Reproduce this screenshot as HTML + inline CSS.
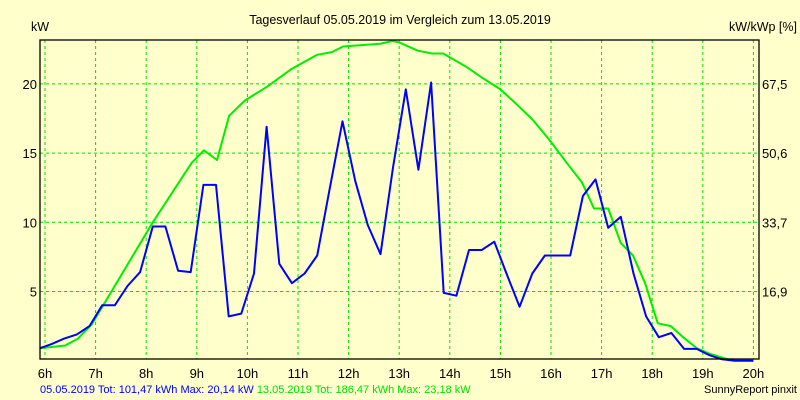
<!DOCTYPE html>
<html><head><meta charset="utf-8"><style>
html,body{margin:0;padding:0;background:#ffffcc;}
svg{display:block;font-family:"Liberation Sans",sans-serif;}
</style></head><body>
<svg id="chart" width="800" height="400" viewBox="0 0 800 400">
<rect x="0" y="0" width="800" height="400" fill="#ffffcc"/>
<text x="400" y="24" font-size="12.5" text-anchor="middle" fill="#000">Tagesverlauf 05.05.2019 im Vergleich zum 13.05.2019</text>
<text x="31" y="31" font-size="12.5" fill="#000">kW</text>
<text x="797" y="31" font-size="12.5" text-anchor="end" fill="#000">kW/kWp [%]</text>
<g id="grid"></g>
<g id="ticks"></g>
<g id="series"></g>
<rect x="40" y="40" width="719" height="319" fill="none" stroke="#000" stroke-width="1.3"/>
<text x="40" y="393" font-size="11"><tspan fill="#0000ff">05.05.2019 Tot: 101,47 kWh Max: 20,14 kW</tspan><tspan fill="#00e000" dx="3">13.05.2019 Tot: 186,47 kWh Max: 23,18 kW</tspan></text>
<text x="797" y="393" font-size="11" text-anchor="end" fill="#000">SunnyReport pinxit</text>
</svg>
<script>
const hourTicks = [6,7,8,9,10,11,12,13,14,15,16,17,18,19,20];
const kwTicks = [5,10,15,20];
const pctLabels = ["16,9","33,7","50,6","67,5"];
const blueTimes = [5.9,6.13,6.38,6.63,6.88,7.13,7.38,7.63,7.88,8.13,8.38,8.63,8.88,9.13,9.38,9.63,9.88,10.13,10.38,10.63,10.88,11.13,11.38,11.63,11.88,12.13,12.38,12.63,12.88,13.13,13.38,13.63,13.88,14.13,14.38,14.63,14.88,15.13,15.38,15.63,15.88,16.13,16.38,16.63,16.88,17.13,17.38,17.63,17.88,18.13,18.38,18.63,18.88,19.13,19.38,19.63,19.88,20.0];
const blueValues = [0.9,1.2,1.6,1.9,2.5,4.0,4.0,5.4,6.4,9.7,9.7,6.5,6.4,12.7,12.7,3.2,3.4,6.3,16.9,7.0,5.6,6.3,7.6,12.5,17.3,13.0,9.8,7.7,14.0,19.6,13.8,20.1,4.9,4.7,8.0,8.0,8.6,6.2,3.9,6.3,7.6,7.6,7.6,11.9,13.1,9.6,10.4,6.3,3.2,1.7,2.0,0.85,0.85,0.4,0.1,0,0,0];
const greenTimes = [5.9,6.4,6.65,6.92,8.13,8.9,9.14,9.4,9.64,9.95,10.39,10.88,11.38,11.67,11.89,12.62,12.87,13.0,13.37,13.65,13.87,14.34,14.66,15.0,15.33,15.64,15.98,16.31,16.61,16.85,17.13,17.38,17.62,17.86,18.11,18.37,18.61,18.88,19.14,19.5,20.0];
const greenValues = [0.9,1.1,1.6,2.6,10.0,14.3,15.2,14.5,17.7,18.8,19.8,21.1,22.1,22.3,22.7,22.9,23.1,23.0,22.4,22.2,22.2,21.2,20.4,19.6,18.5,17.4,15.9,14.3,12.9,11.0,11.0,8.5,7.6,5.6,2.7,2.5,1.7,0.9,0.5,0.1,0];

const NS = "http://www.w3.org/2000/svg";
const x = h => 45 + (h - 6) * 50.6;
const y = v => 360.7 - v * 13.84;
const grid = document.getElementById('grid');
const ticks = document.getElementById('ticks');
const series = document.getElementById('series');
function mk(tag, attrs, parent){const e=document.createElementNS(NS,tag);for(const k in attrs)e.setAttribute(k,attrs[k]);parent.appendChild(e);return e;}

hourTicks.forEach(h => {
  const l = mk('line',{x1:x(h),x2:x(h),y1:40,y2:359,stroke:'#00e000','stroke-dasharray':'3,3','stroke-width':1},grid);
  
  
  const t = mk('text',{x:x(h),y:378,'font-size':13,'text-anchor':'middle',fill:'#000'},ticks);
  t.textContent = h + 'h';
  
  
});
kwTicks.forEach((v,i) => {
  const l = mk('line',{x1:40,x2:759,y1:y(v),y2:y(v),stroke:'#00e000','stroke-dasharray':'3,3','stroke-width':1},grid);
  
  
  const t = mk('text',{x:37,y:y(v)+5,'font-size':13,'text-anchor':'end',fill:'#000'},ticks);
  t.textContent = v;
  
  
  const r = mk('text',{x:762,y:y(v)+5,'font-size':13,fill:'#000'},ticks);
  r.textContent = pctLabels[i];
  
  
});
function line(times, vals, color, name){
  const p = mk('polyline',{points:times.map((t,i)=>x(t).toFixed(1)+','+y(vals[i]).toFixed(1)).join(' '),fill:'none',stroke:color,'stroke-width':2,'stroke-linejoin':'round'},series);
  
  
}
line(greenTimes, greenValues, '#00ee00', 'series-13-05-2019');
line(blueTimes, blueValues, '#0000ff', 'series-05-05-2019');
</script>
</body></html>
